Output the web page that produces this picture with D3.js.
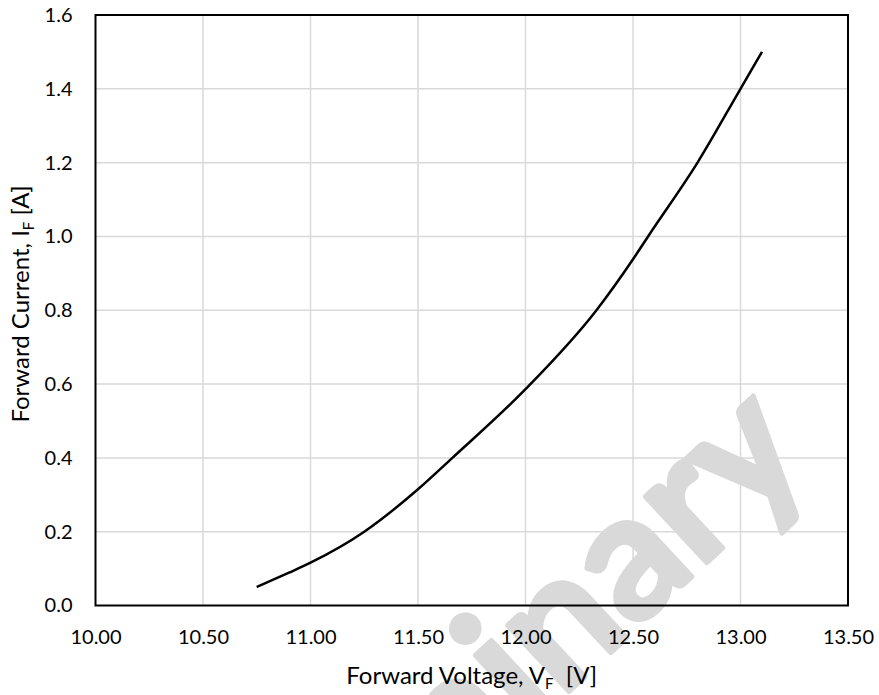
<!DOCTYPE html>
<html><head><meta charset="utf-8">
<script src="https://cdn.jsdelivr.net/npm/d3@7"></script>
<style>body{margin:0;background:#fff} svg{display:block}</style>
</head><body><svg id="c" width="879" height="695"></svg>
<script>
// ---- data ----
const voltage = [10.75, 10.90, 11.00, 11.25, 11.50, 11.66, 12.00, 12.33, 12.50, 12.57, 12.80, 13.00, 13.10];
const current = [0.050, 0.089, 0.116, 0.200, 0.315, 0.400, 0.586, 0.800, 0.938, 1.000, 1.200, 1.400, 1.500];
const xTickValues = [10.0, 10.5, 11.0, 11.5, 12.0, 12.5, 13.0, 13.5];
const yTickValues = [0.0, 0.2, 0.4, 0.6, 0.8, 1.0, 1.2, 1.4, 1.6];
const xTitleMain = "Forward Voltage, V", xTitleSub = "F", xTitleTail = "  [V]";
const yTitleMain = "Forward Current, I", yTitleSub = "F", yTitleTail = " [A]";
const watermark = "Preliminary";

// ---- layout ----
const W = 879, H = 695;
const L = 95.5, R = 848, T = 15, B = 605.5;
const svg = d3.select("#c");
const font = "Lato, 'Open Sans', sans-serif";

const x = d3.scaleLinear().domain([10, 13.5]).range([L, R]);
const y = d3.scaleLinear().domain([0, 1.6]).range([B, T]);

// watermark (behind everything)
svg.append("text")
  .attr("transform", "translate(815,462) rotate(-43)")
  .attr("text-anchor", "end")
  .attr("font-family", font)
  .attr("font-weight", 700)
  .attr("font-size", 176)
  .attr("fill", "#d9d9d9")
  .attr("stroke", "#d9d9d9")
  .attr("stroke-width", 5)
  .attr("stroke-linejoin", "round")
  .text(watermark);

// gridlines
svg.append("g").selectAll("line").data(xTickValues.slice(1, -1)).join("line")
  .attr("x1", d => x(d)).attr("x2", d => x(d)).attr("y1", T).attr("y2", B)
  .attr("stroke", "#d9d9d9").attr("stroke-width", 1.5);
svg.append("g").selectAll("line").data(yTickValues.slice(1, -1)).join("line")
  .attr("y1", d => y(d)).attr("y2", d => y(d)).attr("x1", L).attr("x2", R)
  .attr("stroke", "#d9d9d9").attr("stroke-width", 1.5);

// axes (labels only)
const xAxis = d3.axisBottom(x).tickValues(xTickValues).tickFormat(d3.format(".2f")).tickSize(0).tickPadding(24);
const gx = svg.append("g").attr("transform", `translate(0,${B})`).call(xAxis);
gx.select(".domain").remove();
gx.selectAll("text").attr("font-family", font).attr("font-size", 20).attr("fill", "#000");

const yAxis = d3.axisLeft(y).tickValues(yTickValues).tickFormat(d3.format(".1f")).tickSize(0).tickPadding(23);
const gy = svg.append("g").attr("transform", `translate(${L},0)`).call(yAxis);
gy.select(".domain").remove();
gy.selectAll("text").attr("font-family", font).attr("font-size", 20).attr("fill", "#000");

// frame
svg.append("rect").attr("x", L).attr("y", T).attr("width", R - L).attr("height", B - T)
  .attr("fill", "none").attr("stroke", "#000").attr("stroke-width", 2);

// curve
const pts = voltage.map((v, i) => [v, current[i]]);
svg.append("path").datum(pts)
  .attr("d", d3.line().x(d => x(d[0])).y(d => y(d[1])).curve(d3.curveMonotoneX))
  .attr("fill", "none").attr("stroke", "#000").attr("stroke-width", 2.5);

// x title
const xt = svg.append("text").attr("x", (L + R) / 2).attr("y", 684)
  .attr("text-anchor", "middle").attr("font-family", font).attr("font-size", 24).attr("fill", "#000")
  .style("white-space", "pre");
xt.append("tspan").text(xTitleMain);
xt.append("tspan").attr("font-size", 15).attr("dy", 5).text(xTitleSub);
xt.append("tspan").attr("dy", -5).text(xTitleTail);

// y title
const yt = svg.append("text").attr("transform", `translate(29,304) rotate(-90)`)
  .attr("text-anchor", "middle").attr("font-family", font).attr("font-size", 24).attr("fill", "#000")
  .style("white-space", "pre");
yt.append("tspan").text(yTitleMain);
yt.append("tspan").attr("font-size", 15).attr("dy", 5).text(yTitleSub);
yt.append("tspan").attr("dy", -5).text(yTitleTail);
</script></body></html>
